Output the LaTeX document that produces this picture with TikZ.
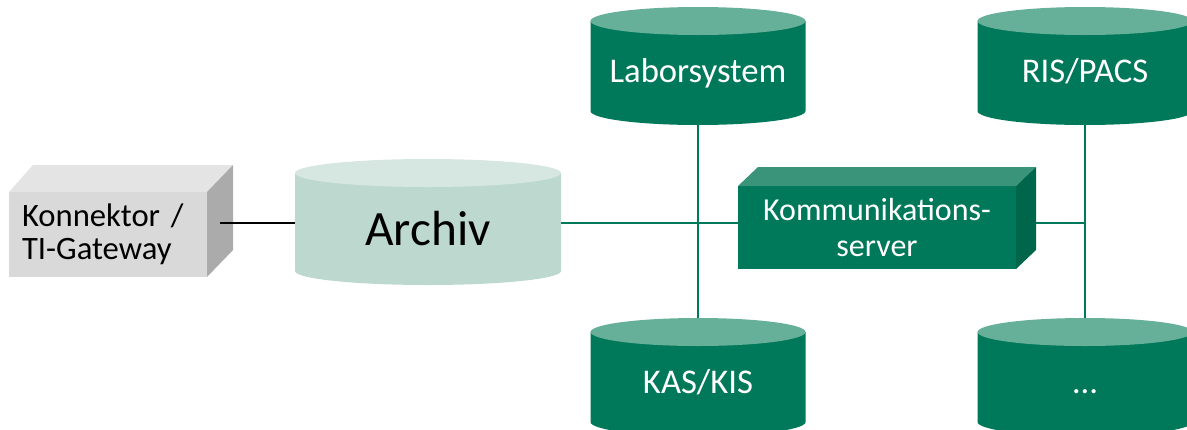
\documentclass[tikz,border=0pt]{standalone}
\usepackage{fontspec}
\setmainfont{Carlito}
\usepackage{tikz}
\definecolor{kgreen}{HTML}{00785A}
\definecolor{kgreentop}{HTML}{66AF98}
\definecolor{kgreenlid}{HTML}{3A9479}
\definecolor{kgreenside}{HTML}{00664B}
\definecolor{archivbody}{HTML}{BDD8CF}
\definecolor{archivtop}{HTML}{D6E7E1}
\definecolor{boxfront}{HTML}{D9D9D9}
\definecolor{boxtop}{HTML}{E4E4E4}
\definecolor{boxside}{HTML}{ABABAB}
\tikzset{drum/.style={inner sep=0pt,minimum width=161.25pt,minimum height=88.5pt,
    text=white,font=\fontsize{26}{31}\selectfont,text height=25pt,text depth=0pt},
  archivcan/.style={inner sep=0pt,minimum width=199.5pt,minimum height=94.5pt,
    font=\fontsize{37}{44}\selectfont,text height=34.5pt,text depth=0pt},
  konnbox/.style={inner xsep=9.75pt,inner ysep=0pt,text width=129pt,align=left,
    minimum height=63.75pt,font=\fontsize{24.5}{24.75}\selectfont},
  kommbox/.style={inner sep=0pt,minimum width=208.5pt,minimum height=62.25pt,
    align=center,text=white,font=\fontsize{24}{27}\selectfont},
  bus/.style={draw=kgreen,line width=1.5pt}}

\begin{document}
\begin{tikzpicture}[x=0.75pt,y=0.75pt,yscale=-1,xscale=1]
\useasboundingbox (0,0) rectangle (1187,429);

%Shape: Cube [Konnektor]
\fill[boxfront] (9,192) rectangle (207,277);
\fill[boxtop] (9,192) -- (33,165) -- (233,165) -- (207,192) -- cycle;
\fill[boxside] (207,192) -- (233,165) -- (233,250) -- (207,277) -- cycle;
%Shape: Can [Archiv]
\fill[archivbody] (295,173) -- (295,271) arc[start angle=180,end angle=0,x radius=133,y radius=14] -- (561,173) -- cycle;
\fill[archivtop] (428,173) ellipse [x radius=133,y radius=14];
%Shape: Can [Laborsystem]
\fill[kgreen] (590.5,21) -- (590.5,111) arc[start angle=180,end angle=0,x radius=107.5,y radius=14] -- (805.5,21) -- cycle;
\fill[kgreentop] (698,21) ellipse [x radius=107.5,y radius=14];
%Shape: Can [RIS/PACS]
\fill[kgreen] (977.5,21) -- (977.5,111) arc[start angle=180,end angle=0,x radius=107.5,y radius=14] -- (1192.5,21) -- cycle;
\fill[kgreentop] (1085,21) ellipse [x radius=107.5,y radius=14];
%Shape: Can [KAS/KIS]
\fill[kgreen] (590.5,332) -- (590.5,422) arc[start angle=180,end angle=0,x radius=107.5,y radius=14] -- (805.5,332) -- cycle;
\fill[kgreentop] (698,332) ellipse [x radius=107.5,y radius=14];
%Shape: Can [...]
\fill[kgreen] (977.5,332) -- (977.5,422) arc[start angle=180,end angle=0,x radius=107.5,y radius=14] -- (1192.5,332) -- cycle;
\fill[kgreentop] (1085,332) ellipse [x radius=107.5,y radius=14];
%Shape: Cube [Kommunikationsserver]
\fill[kgreen] (738,186) rectangle (1016,269);
\fill[kgreenlid] (738,186) -- (758,167) -- (1036,167) -- (1016,186) -- cycle;
\fill[kgreenside] (1016,186) -- (1036,167) -- (1036,250) -- (1016,269) -- cycle;

% Text Node
\draw (108,234.5) node [konnbox] (konn) {Konnektor /\\TI-Gateway};
% Text Node
\draw (428,222) node [archivcan] (archiv) {Archiv};
% Text Node
\draw (698,66) node [drum] (labor) {Laborsystem};
% Text Node
\draw (1085,66) node [drum] (ris) {RIS/PACS};
% Text Node
\draw (698,377) node [drum] (kas) {KAS/KIS};
% Text Node
\draw (1085,377) node [drum] (more) {…};
% Text Node
\draw (877,227.5) node [kommbox] (komm) {Kommunikations-\\server};

%Straight Lines
\coordinate (konnSide) at (220,223);
\coordinate (kommBack) at ([xshift=15pt]komm.east);
\draw [line width=1.5pt] (konnSide) -- (konnSide -| archiv.west);
\draw [bus] (archiv.east |- konnSide) -- (komm.west |- konnSide);
\draw [bus] (kommBack |- konnSide) -- (ris.south |- konnSide);
\draw [bus] (labor.south) -- (kas.north);
\draw [bus] (ris.south) -- (more.north);

\end{tikzpicture}
\end{document}
